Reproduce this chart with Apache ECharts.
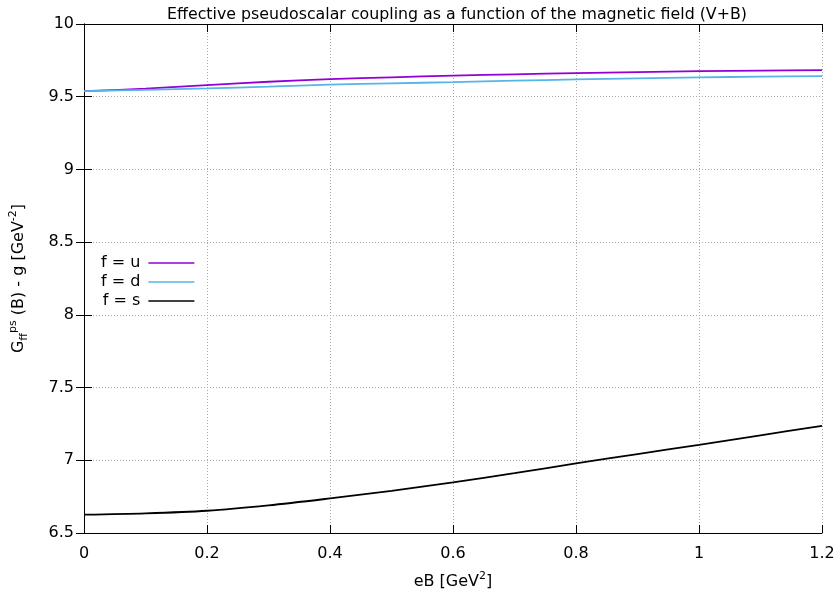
<!DOCTYPE html>
<html>
<head>
<meta charset="utf-8">
<script src="https://cdn.jsdelivr.net/npm/echarts@6/dist/echarts.min.js"></script>
<style>
html,body{margin:0;padding:0;background:#fff;}
#chart{width:838px;height:595px;}
</style>
</head>
<body>
<div id="chart"></div>
<script>
var eB = [0, 0.1, 0.2, 0.3, 0.4, 0.5, 0.6, 0.7, 0.8, 0.9, 1.0, 1.1, 1.2];
var gU = [9.538, 9.555, 9.580, 9.603, 9.621, 9.633, 9.645, 9.654, 9.662, 9.669, 9.676, 9.680, 9.683];
var gD = [9.538, 9.547, 9.557, 9.569, 9.583, 9.592, 9.600, 9.610, 9.619, 9.626, 9.633, 9.638, 9.642];
var gS = [6.626, 6.635, 6.653, 6.690, 6.738, 6.790, 6.848, 6.912, 6.978, 7.043, 7.106, 7.172, 7.236];
var xTicks = [0, 0.2, 0.4, 0.6, 0.8, 1, 1.2];
var yTicks = [6.5, 7, 7.5, 8, 8.5, 9, 9.5, 10];
var seriesNames = ['f = u', 'f = d', 'f = s'];

function pairs(xs, ys){ return xs.map(function(x,i){ return [x, ys[i]]; }); }

var FONT = 'DejaVu Sans';
var chart = echarts.init(document.getElementById('chart'), null, {renderer:'canvas'});
var gridLine = {show:true, lineStyle:{color:'#ababab', type:[1,2], width:1}};
var option = {
  backgroundColor:'#fff',
  animation:false,
  textStyle:{fontFamily:FONT, color:'#000'},
  title:{
    text:'Effective pseudoscalar coupling as a function of the magnetic field (V+B)',
    left:452, textAlign:'center', top:2,
    textStyle:{fontFamily:FONT, fontSize:15.8, fontWeight:'normal', color:'#000'}
  },
  legend:{
    orient:'vertical', left:101, top:255, padding:0,
    align:'right', itemWidth:46, itemHeight:14, itemGap:3,
    itemStyle:{opacity:0},
    lineStyle:{width:1.4},
    textStyle:{fontFamily:FONT, fontSize:16, color:'#000', padding:[0,3,0,0]},
    data:seriesNames
  },
  grid:{left:83, right:16, top:24, bottom:61, containLabel:false},
  xAxis:[{
    type:'value', min:0, max:1.2, interval:0.2,
    axisLine:{show:true, lineStyle:{color:'#000', width:1}},
    axisTick:{show:true, inside:true, length:8, lineStyle:{color:'#000'}},
    axisLabel:{fontFamily:FONT, fontSize:16, color:'#000', margin:13,
      formatter:function(v){ var r=Math.round(v*10)/10; return xTicks.indexOf(r)>=0 ? String(r) : ''; }},
    splitLine:gridLine,
    name:'eB [GeV{sup|2}]', nameLocation:'middle', nameGap:38,
    nameTextStyle:{fontFamily:FONT, fontSize:16, color:'#000',
      rich:{sup:{fontFamily:FONT, fontSize:11, verticalAlign:'top', lineHeight:22, color:'#000'}}}
  },{
    type:'value', position:'top', min:0, max:1.2, interval:0.2,
    axisLine:{show:true, lineStyle:{color:'#000', width:1}},
    axisTick:{show:true, inside:true, length:8, lineStyle:{color:'#000'}},
    axisLabel:{show:false}, splitLine:{show:false}
  }],
  yAxis:[{
    type:'value', min:6.5, max:10, interval:0.5,
    axisLine:{show:true, lineStyle:{color:'#000', width:1}},
    axisTick:{show:true, inside:true, length:8, lineStyle:{color:'#000'}},
    axisLabel:{fontFamily:FONT, fontSize:16, color:'#000', margin:10,
      formatter:function(v){ var r=Math.round(v*10)/10; return yTicks.indexOf(r)>=0 ? String(r) : ''; }},
    splitLine:gridLine,
    name:'G{sub|ff}{sup|ps} (B) - g [GeV{sup|-2}]', nameLocation:'middle', nameGap:54,
    nameRotate:90,
    nameTextStyle:{fontFamily:FONT, fontSize:16, color:'#000',
      rich:{
        sub:{fontFamily:FONT, fontSize:11, verticalAlign:'bottom', lineHeight:22, color:'#000'},
        sup:{fontFamily:FONT, fontSize:11, verticalAlign:'top', lineHeight:22, color:'#000'}
      }}
  },{
    type:'value', position:'right', min:6.5, max:10, interval:0.5,
    axisLine:{show:true, lineStyle:{color:'#000', width:1}},
    axisTick:{show:true, inside:true, length:8, lineStyle:{color:'#000'}},
    axisLabel:{show:false}, splitLine:{show:false}
  }],
  series:[
    {name:seriesNames[0], type:'line', data:pairs(eB,gU), symbol:'none', smooth:0.3,
     lineStyle:{color:'#9400d3', width:1.8}, itemStyle:{color:'#9400d3'}},
    {name:seriesNames[1], type:'line', data:pairs(eB,gD), symbol:'none', smooth:0.3,
     lineStyle:{color:'#56b4e9', width:1.8}, itemStyle:{color:'#56b4e9'}},
    {name:seriesNames[2], type:'line', data:pairs(eB,gS), symbol:'none', smooth:0.3,
     lineStyle:{color:'#000000', width:1.8}, itemStyle:{color:'#000000'}}
  ]
};
chart.setOption(option);
</script>
</body>
</html>
